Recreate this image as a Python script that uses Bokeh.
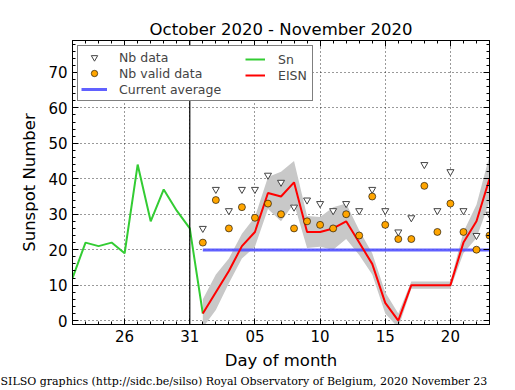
from bokeh.plotting import figure
from bokeh.models import (Span, Legend, LegendItem, LinearAxis, FixedTicker,
                          SingleIntervalTicker, Title, Range1d)
from bokeh.embed import file_html
from bokeh.resources import INLINE

# Day numbering: Oct 22 = 22 ... Oct 31 = 31, Nov 1 = 32 ... Nov 23 = 54
sn_days = [22, 23, 24, 25, 26, 27, 28, 29, 30, 31, 32]
sn_values = [12, 22, 21, 22, 19, 44, 28, 37, 31, 26, 2]

nov_days = [32, 33, 34, 35, 36, 37, 38, 39, 40, 41, 42, 43,
            44, 45, 46, 47, 48, 49, 50, 51, 52, 53, 54]
eisn = [2, 8, 14, 21, 25, 36, 35, 39, 25, 25, 26, 28,
        22, 16, 5, 0, 10, 10, 10, 10, 22, 28, 40]
eisn_err = [4, 5, 3.5, 3.5, 4.2, 4.5, 7, 6, 4.5, 4.2, 6, 5,
            3.5, 3, 3, 2, 1, 1, 1, 1, 3, 4.7, 6.5]
nb_data = [26, 37, 31, 37, 37, 41, 39, 32, 34, 33, 31, 33,
           31, 37, 31, 25, 29, 44, 31, 42, 31, 24, 30]
nb_valid = [22, 34, 26, 32, 29, 33, 30, 26, 28, 27, 26, 30,
            24, 35, 27, 23, 23, 38, 25, 33, 25, 20, 24]
current_average = 19.9
month_boundary = 31

tick_days = [26, 31, 36, 41, 46, 51]
tick_labels = ["26", "31", "05", "10", "15", "20"]
all_days = list(range(22, 55))

FONT = "DejaVu Sans"

p = figure(width=515, height=390, output_backend="svg", toolbar_location=None,
           x_range=Range1d(22, 54), y_range=Range1d(-1.1, 79.0),
           min_border_left=72, min_border_right=26, min_border_top=40,
           min_border_bottom=66, title="October 2020 - November 2020")
p.background_fill_color = "white"
p.border_fill_color = "white"
p.outline_line_color = "black"
p.outline_line_width = 1

p.title.align = "center"
p.title.text_font = FONT
p.title.text_font_size = "16.5px"
p.title.text_font_style = "normal"
p.title.text_color = "black"
p.title.standoff = 3

xticker = FixedTicker(ticks=tick_days, minor_ticks=all_days)
yticker = SingleIntervalTicker(interval=10, num_minor_ticks=5)

for ax in p.xaxis:
    ax.ticker = xticker
    ax.major_label_overrides = {d: l for d, l in zip(tick_days, tick_labels)}
    ax.axis_label = "Day of month"
for ax in p.yaxis:
    ax.ticker = yticker
    ax.axis_label = "Sunspot Number"

for ax in list(p.xaxis) + list(p.yaxis):
    ax.major_tick_in = 6
    ax.major_tick_out = 0
    ax.minor_tick_in = 3
    ax.minor_tick_out = 0
    ax.major_label_text_font = FONT
    ax.major_label_text_font_size = "15px"
    ax.major_label_text_color = "black"
    ax.axis_label_text_font = FONT
    ax.axis_label_text_font_size = "16.5px"
    ax.axis_label_text_font_style = "normal"
    ax.axis_label_text_color = "black"
    ax.axis_line_color = "black"
    ax.major_tick_line_color = "black"
    ax.minor_tick_line_color = "black"
    ax.major_label_standoff = 5
    ax.axis_label_standoff = 6

top = LinearAxis(ticker=xticker, major_label_text_font_size="0px",
                 major_label_text_color=None,
                 major_tick_in=6, major_tick_out=0, minor_tick_in=3, minor_tick_out=0,
                 major_label_standoff=0)
right = LinearAxis(ticker=yticker, major_label_text_font_size="0px",
                   major_label_text_color=None,
                   major_tick_in=6, major_tick_out=0, minor_tick_in=3, minor_tick_out=0,
                   major_label_standoff=0)
p.add_layout(top, "above")
p.add_layout(right, "right")

for g in (p.xgrid, p.ygrid):
    g.grid_line_color = "black"
    g.grid_line_dash = "1 3"
    g.grid_line_width = 0.8
p.xgrid.ticker = xticker
p.ygrid.ticker = yticker

# error band around EISN
lower = [v - e for v, e in zip(eisn, eisn_err)]
upper = [v + e for v, e in zip(eisn, eisn_err)]
p.varea(x=nov_days, y1=lower, y2=upper, fill_color="#c8c8c8", fill_alpha=1.0)

p.add_layout(Span(location=month_boundary, dimension="height",
                  line_color="black", line_width=1.2))

avg_r = p.line(x=[nov_days[0], nov_days[-1]], y=[current_average, current_average],
               line_color="#5050ff", line_width=3, line_alpha=0.9)
sn_r = p.line(x=sn_days, y=sn_values, line_color="#33cc33", line_width=2)
eisn_r = p.line(x=nov_days, y=eisn, line_color="#ff0000", line_width=2)
nb_r = p.scatter(x=nov_days, y=nb_data, marker="inverted_triangle", size=7,
                 fill_color="white", line_color="#444444", line_width=1)
nv_r = p.scatter(x=nov_days, y=nb_valid, marker="circle", size=7,
                 fill_color="#ffa500", line_color="black", line_width=0.6)


def style_legend(lg):
    lg.padding = 3
    lg.spacing = 0
    lg.label_height = 16
    lg.glyph_height = 16
    lg.label_text_font = FONT
    lg.label_text_font_size = "12.5px"


legend_a = Legend(items=[
    LegendItem(label="Nb data", renderers=[nb_r]),
    LegendItem(label="Nb valid data", renderers=[nv_r]),
    LegendItem(label="Current average", renderers=[avg_r]),
], location="top_left")
style_legend(legend_a)
legend_a.margin = 5
legend_a.glyph_width = 26
legend_a.label_standoff = 12
legend_a.label_width = 190
legend_a.border_line_color = "black"
legend_a.border_line_width = 1
legend_a.background_fill_alpha = 1.0
p.add_layout(legend_a, "center")

legend_b = Legend(items=[
    LegendItem(label="Sn", renderers=[sn_r]),
    LegendItem(label="EISN", renderers=[eisn_r]),
], location=(173, 241))
style_legend(legend_b)
legend_b.margin = 0
legend_b.glyph_width = 20
legend_b.label_standoff = 13
legend_b.border_line_color = None
legend_b.background_fill_alpha = 0.0
p.add_layout(legend_b, "center")

footer = Title(text="SILSO graphics (http://sidc.be/silso) Royal Observatory of Belgium, 2020 November 23",
               align="left", offset=-72, standoff=0,
               text_font="DejaVu Serif", text_font_size="11px", text_font_style="normal",
               text_color="black")
p.add_layout(footer, "below")

open("out.html", "w").write(file_html(p, INLINE))
